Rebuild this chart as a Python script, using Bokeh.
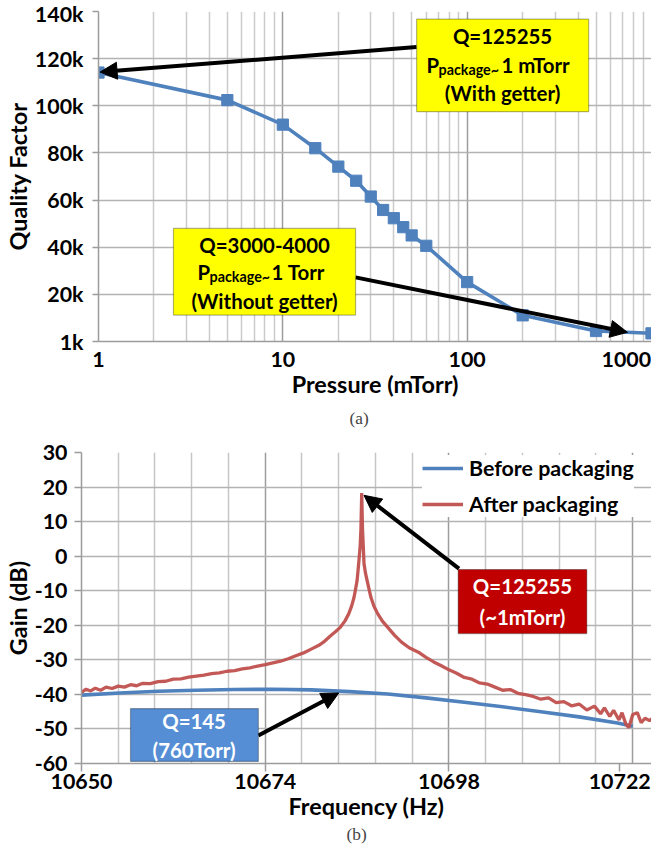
from bokeh.plotting import figure
from bokeh.models import (FixedTicker, Arrow, NormalHead, Label, BoxAnnotation,
                          Title, Legend, LegendItem, Range1d)
from bokeh.embed import file_html
from bokeh.resources import INLINE

# ---------------- data (a) ----------------
pressure_mtorr = [1, 5, 10, 15, 20, 25, 30, 35, 40, 45, 50, 60, 100, 200, 500, 1000]
quality_factor = [114100, 102400, 92000, 82000, 74200, 68200, 61500, 55800, 52300,
                  48500, 45000, 40600, 25200, 11100, 4450, 3460]
p_grid_ticks = [1, 10, 100, 1000]
p_minor = [2, 3, 4, 5, 6, 7, 8, 9, 20, 30, 40, 50, 60, 70, 80, 90,
           200, 300, 400, 500, 600, 700, 800, 900]
# label positions: the last label sits left of the right edge, as in the original
p_label_pos = [1, 10, 100, 730]
p_tick_labels = ["1", "10", "100", "1000"]
q_ticks = [0, 20000, 40000, 60000, 80000, 100000, 120000, 140000]
q_tick_labels = ["1k", "20k", "40k", "60k", "80k", "100k", "120k", "140k"]

# ---------------- data (b) ----------------
freq_before = [10650, 10655, 10660, 10665, 10670, 10675, 10680, 10685, 10690,
               10695, 10700, 10705, 10710, 10715, 10720, 10722]
gain_before = [-40.2, -39.6, -39.1, -38.8, -38.6, -38.5, -38.7, -39.2, -39.9,
               -41.0, -42.3, -43.6, -45.0, -46.5, -48.3, -49.2]
freq_after = [10650.0, 10650.6, 10651.2, 10651.8, 10652.5, 10653.2, 10654.0, 10654.8,
              10655.6, 10656.4, 10657.2, 10658.0, 10659.0, 10660.0, 10661.0, 10662.0,
              10663.0, 10664.0, 10665.0, 10666.0, 10667.0, 10668.0, 10669.0, 10670.0,
              10671.0, 10672.0, 10673.0, 10674.0, 10675.0, 10676.0, 10677.0, 10678.0,
              10679.0, 10680.0, 10681.0, 10681.6, 10682.5, 10683.2, 10683.8, 10684.4,
              10684.9, 10685.3, 10685.6, 10685.8, 10686.0, 10686.2, 10686.4, 10686.5,
              10686.6, 10686.7, 10686.8, 10686.9, 10687.1, 10687.3, 10687.6, 10687.8,
              10688.2, 10688.7, 10689.3, 10690.0, 10690.9, 10691.8, 10692.8, 10694.0,
              10695.0, 10696.0, 10697.0, 10698.0, 10699.0, 10700.0, 10701.0, 10702.0,
              10703.0, 10704.0, 10705.0, 10706.0, 10707.0, 10708.0, 10709.0, 10710.0,
              10711.0, 10712.0, 10713.0, 10714.0, 10715.0, 10716.0, 10717.0, 10717.8,
              10718.3, 10719.0, 10719.5, 10720.2, 10720.6, 10721.1, 10721.5, 10722.0,
              10722.6, 10723.1, 10723.6, 10724.2, 10724.7]
gain_after = [-39.4, -38.5, -39.0, -38.2, -38.8, -37.9, -38.3, -37.6,
              -37.9, -37.2, -37.5, -36.8, -36.9, -36.3, -36.2, -35.6,
              -35.5, -35.0, -34.7, -34.4, -34.0, -33.8, -33.3, -33.1,
              -32.6, -32.3, -31.8, -31.4, -30.9, -30.4, -29.7, -28.8,
              -28.0, -26.9, -25.8, -24.9, -23.1, -21.8, -20.6, -18.8,
              -16.7, -14.3, -11.9, -9.5, -7.0, -2.2, 3.0, 8.0,
              18.3, 8.0, 3.0, -2.2, -5.0, -7.0, -10.0, -11.9,
              -14.5, -16.7, -18.8, -20.6, -22.9, -24.9, -26.5, -27.8,
              -29.3, -30.6, -31.7, -32.9, -33.9, -35.1, -35.6, -36.7,
              -37.0, -37.9, -38.8, -38.6, -39.7, -40.1, -40.6, -41.4,
              -41.0, -42.4, -42.1, -43.3, -42.8, -44.5, -43.4, -45.6,
              -43.9, -46.4, -44.6, -47.4, -45.3, -48.6, -49.6, -45.8,
              -45.3, -48.2, -46.9, -47.6, -46.6]
f_grid_ticks = [10650, 10674, 10698, 10722]
f_minor = [10654.8, 10659.6, 10664.4, 10669.2, 10678.8, 10683.6, 10688.4, 10693.2,
           10702.8, 10707.6, 10712.4, 10717.2]
f_label_pos = [10650, 10674, 10698, 10720.3]
f_tick_labels = ["10650", "10674", "10698", "10722"]
g_ticks = [-60, -50, -40, -30, -20, -10, 0, 10, 20, 30]
g_tick_labels = ["-60", "-50", "-40", "-30", "-20", "-10", "0", "10", "20", "30"]

FONT = "Lato"
BLUE = "#4F81BD"
RED = "#C0504D"
GRID_MAJ = "#9C9C9C"
TICK_SIZE = "21.4px"


def style_axes(p):
    for ax in (p.xaxis[0], p.yaxis[0]):
        ax.axis_line_color = GRID_MAJ
        ax.axis_line_width = 1.5
        ax.major_tick_line_color = GRID_MAJ
        ax.major_tick_line_width = 1.5
        ax.major_tick_in = 0
        ax.major_tick_out = 6
        ax.minor_tick_line_color = None
        ax.major_label_text_font = FONT
        ax.major_label_text_font_style = "bold"
        ax.major_label_text_font_size = TICK_SIZE
        ax.major_label_text_color = "black"
        ax.axis_label_text_font = FONT
        ax.axis_label_text_font_style = "bold"
        ax.axis_label_text_font_size = "23.4px"
        ax.axis_label_text_color = "black"
    p.outline_line_color = None
    p.background_fill_color = "white"
    p.border_fill_color = "white"


def add_text(p, x, y, text, size="20.4px", color="black", align="center", xoff=0):
    p.add_layout(Label(x=x, y=y, text=text, text_font=FONT, text_font_style="bold",
                       text_font_size=size, text_color=color, text_align=align,
                       text_baseline="middle", x_offset=xoff))


def head():
    return NormalHead(size=17, fill_color="black", line_color="black")


# ================= (a) =================
p1 = figure(width=651, height=436, x_axis_type="log",
            x_range=Range1d(1, 1000), y_range=Range1d(0, 140000),
            min_border_left=93, min_border_right=0, min_border_top=11, min_border_bottom=95,
            output_backend="svg", toolbar_location=None,
            x_axis_label="Pressure (mTorr)", y_axis_label="Quality Factor")
p1.xaxis.ticker = FixedTicker(ticks=p_label_pos)
p1.xaxis.major_label_overrides = dict(zip(p_label_pos, p_tick_labels))
p1.yaxis.ticker = FixedTicker(ticks=q_ticks)
p1.yaxis.major_label_overrides = dict(zip(q_ticks, q_tick_labels))
style_axes(p1)
p1.xaxis.major_tick_out = 0
p1.xaxis.major_label_standoff = 10
p1.xaxis.axis_label_standoff = 0
p1.yaxis.major_label_standoff = 9
p1.yaxis.axis_label_standoff = 0
p1.xgrid.ticker = FixedTicker(ticks=p_grid_ticks, minor_ticks=p_minor)
p1.xgrid.grid_line_color = GRID_MAJ
p1.xgrid.grid_line_width = 1.5
p1.xgrid.minor_grid_line_color = "#CBCBCB"
p1.xgrid.minor_grid_line_width = 1.5
p1.ygrid.grid_line_color = "#B3B3B3"
p1.ygrid.grid_line_width = 1.5

p1.line(pressure_mtorr, quality_factor, line_color=BLUE, line_width=3.6)
p1.scatter(pressure_mtorr, quality_factor, marker="square", size=11.2,
           fill_color=BLUE, line_color=BLUE)

# arrows (a)
p1.add_layout(Arrow(x_start=53.2, y_start=124900, x_end=1.02, y_end=114300,
                    line_width=4, line_color="black", end=head()))
p1.add_layout(Arrow(x_start=24.8, y_start=27200, x_end=740, y_end=3900,
                    line_width=4, line_color="black", end=head()))

# yellow boxes
p1.add_layout(BoxAnnotation(left=53.2, right=456, top=136800, bottom=97500,
                            fill_color="#FFFF00", fill_alpha=1, line_color="black",
                            line_width=1.2))
add_text(p1, 155.5, 129500, "Q=125255")
add_text(p1, 155.5, 117200, "P", align="left", xoff=-76)
add_text(p1, 155.5, 115400, "package~", size="14.3px", align="left", xoff=-64)
add_text(p1, 155.5, 117200, "1 mTorr", align="left", xoff=-1)
add_text(p1, 155.5, 105400, "(With getter)")

p1.add_layout(BoxAnnotation(left=2.55, right=24.8, top=47960, bottom=11200,
                            fill_color="#FFFF00", fill_alpha=1, line_color="black",
                            line_width=1.2))
add_text(p1, 7.96, 40900, "Q=3000-4000")
add_text(p1, 7.96, 29400, "P", align="left", xoff=-67)
add_text(p1, 7.96, 27600, "package~", size="14.3px", align="left", xoff=-55)
add_text(p1, 7.96, 29400, "1 Torr", align="left", xoff=7)
add_text(p1, 7.96, 17200, "(Without getter)")

p1.add_layout(Title(text="(a)", align="left", offset=251, text_font="Liberation Serif",
                    text_font_size="17.3px", text_font_style="normal", standoff=12), "below")

# ================= (b) =================
p2 = figure(width=651, height=417,
            x_range=Range1d(10650, 10724.45), y_range=Range1d(-60, 30),
            min_border_left=79, min_border_right=0, min_border_top=16, min_border_bottom=90,
            output_backend="svg", toolbar_location=None,
            x_axis_label="Frequency (Hz)", y_axis_label="Gain (dB)")
p2.xaxis.ticker = FixedTicker(ticks=f_label_pos)
p2.xaxis.major_label_overrides = dict(zip(f_label_pos, f_tick_labels))
p2.yaxis.ticker = FixedTicker(ticks=g_ticks)
p2.yaxis.major_label_overrides = dict(zip(g_ticks, g_tick_labels))
style_axes(p2)
p2.xaxis.major_tick_out = 8
p2.yaxis.major_tick_out = 7
p2.xaxis.major_label_standoff = 2
p2.xaxis.axis_label_standoff = 0
p2.yaxis.major_label_standoff = 7
p2.yaxis.axis_label_standoff = 0
p2.xgrid.ticker = FixedTicker(ticks=f_grid_ticks, minor_ticks=f_minor)
p2.xgrid.grid_line_color = GRID_MAJ
p2.xgrid.grid_line_width = 1.5
p2.xgrid.minor_grid_line_color = "#C6C6C6"
p2.xgrid.minor_grid_line_width = 1.5
p2.ygrid.grid_line_color = "#B3B3B3"
p2.ygrid.grid_line_width = 1.5

rb = p2.line(freq_before, gain_before, line_color=BLUE, line_width=3.6)
ra = p2.line(freq_after, gain_after, line_color=RED, line_width=3.3, line_alpha=0.95)

legend = Legend(items=[LegendItem(label="Before packaging", renderers=[rb]),
                       LegendItem(label="After packaging", renderers=[ra])],
                location=(341, 246), orientation="vertical",
                label_text_font=FONT, label_text_font_style="bold",
                label_text_font_size="21.4px", label_text_color="black",
                glyph_width=41, glyph_height=22, label_height=22, label_standoff=6,
                spacing=10, padding=3, margin=0,
                background_fill_color="white", background_fill_alpha=1,
                border_line_color=None)
p2.add_layout(legend)

# red box
p2.add_layout(Arrow(x_start=10699.3, y_start=-3.6, x_end=10686.9, y_end=17.6,
                    line_width=4, line_color="black", end=head()))
p2.add_layout(BoxAnnotation(left=10699.2, right=10716.0, top=-3.86, bottom=-22.4,
                            fill_color="#C00000", fill_alpha=1, line_color="black",
                            line_width=1.2))
add_text(p2, 10707.6, -8.7, "Q=125255", color="white")
add_text(p2, 10707.6, -17.5, "(~1mTorr)", color="white")

# blue box
p2.add_layout(Arrow(x_start=10673.1, y_start=-51.9, x_end=10683.6, y_end=-39.6,
                    line_width=4, line_color="black", end=head()))
p2.add_layout(BoxAnnotation(left=10656.4, right=10673.1, top=-44.1, bottom=-59.4,
                            fill_color="#558ED5", fill_alpha=1, line_color="black",
                            line_width=1.2))
add_text(p2, 10664.7, -47.8, "Q=145", color="white")
add_text(p2, 10664.7, -56.0, "(760Torr)", color="white")

p2.add_layout(Title(text="(b)", align="left", offset=265, text_font="Liberation Serif",
                    text_font_size="17.3px", text_font_style="normal", standoff=1), "below")

open("out.html", "w").write(file_html([p1, p2], INLINE))
